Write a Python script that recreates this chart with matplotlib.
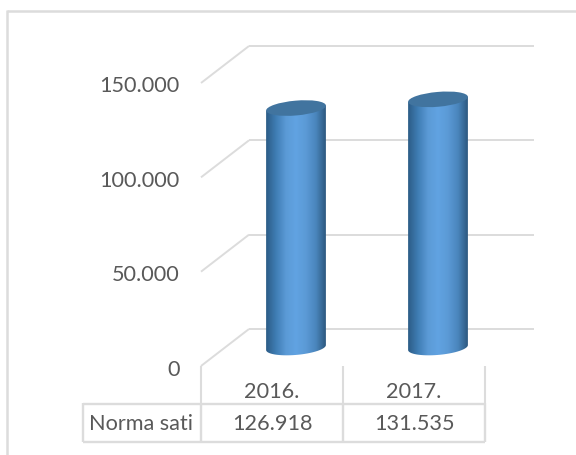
import numpy as np
import matplotlib
matplotlib.use("Agg")
import matplotlib.pyplot as plt
from matplotlib.colors import LinearSegmentedColormap
from matplotlib.patches import Ellipse, PathPatch
from matplotlib.path import Path
from matplotlib.transforms import IdentityTransform

categories = ["2016.", "2017."]
values = [126918, 131535]
y_ticks = [0, 50000, 100000, 150000]
y_labels = ["0", "50.000", "100.000", "150.000"]
row_label = "Norma sati"
value_labels = ["126.918", "131.535"]

W, H = 576, 455
GREY = "#dcdcdc"
TXT = "#595959"
FS = 15.6
plt.rcParams["font.family"] = ["Lato", "DejaVu Sans"]

fig = plt.figure(figsize=(W / 100, H / 100), dpi=100)
ax = fig.add_axes([0, 0, 1, 1])
# pixel geometry of the front plane
X0, DX = 272.0, 142.0
Y0, SY = 366.0, 283.0 / 150000
ax.set_xlim((0 - X0) / DX, (W - X0) / DX)
ax.set_ylim((Y0 - H) / SY, Y0 / SY)
ax.axis("off")

def dx(p):  # pixel x -> data x
    return (p - X0) / DX
def dy(p):  # pixel y from top -> data y
    return (Y0 - p) / SY
def line(x1, y1, x2, y2, lw=1.4, z=1):
    ax.plot([dx(x1), dx(x2)], [dy(y1), dy(y2)], color=GREY, lw=lw, zorder=z,
            solid_capstyle="butt", clip_on=False)

# outer frame
line(7, 10.5, 576, 10.5, lw=1.8)
line(7, 10, 7, 455, lw=1.8)

DEPTH_X, DEPTH_Y = 48.0, 37.0
# gridlines on side wall and back wall
for t in y_ticks:
    yf = Y0 - t * SY
    line(201, yf, 201 + DEPTH_X, yf - DEPTH_Y)
    line(201 + DEPTH_X, yf - DEPTH_Y, 534, yf - DEPTH_Y)
for t, lab in zip(y_ticks, y_labels):
    ax.text(dx(179.5), t - 1.5 / SY, lab, ha="right", va="center_baseline", fontsize=FS, color=TXT)

# cylinders
cmap = LinearSegmentedColormap.from_list(
    "cyl", ["#2c5c86", "#3f7db4", "#5b9ad6", "#61a3e2", "#5b9ad6", "#4a86bd", "#2c587f"])
grad = np.linspace(0, 1, 256).reshape(1, -1)
RX, RY, TILT = 30.0, 7.4, 5.0
th = np.radians(TILT)
ex, ey = RX * np.cos(th), RX * np.sin(th)
for i, v in enumerate(values):
    base_p = Y0 - DEPTH_Y / 2
    top_p = base_p - v * SY
    cpx = X0 + i * DX + DEPTH_X / 2
    a = np.linspace(0, np.pi, 40)
    arcx = cpx + RX * np.cos(a) * np.cos(th) + RY * np.sin(a) * np.sin(th)
    arcy = base_p - RX * np.cos(a) * np.sin(th) + RY * np.sin(a) * np.cos(th)
    px = np.r_[cpx - ex, cpx + ex, arcx, cpx - ex]
    py = np.r_[top_p + ey, top_p - ey, arcy, top_p + ey]
    clip = PathPatch(Path(np.c_[dx(px), dy(py)]), transform=ax.transData, fc="none", ec="none")
    ax.add_patch(clip)
    im = ax.imshow(grad, cmap=cmap, aspect="auto", zorder=3,
                   extent=[dx(cpx - RX), dx(cpx + RX), dy(base_p + 12), dy(top_p - 8)])
    im.set_clip_path(clip)
    ax.add_patch(Ellipse((cpx, H - top_p), 2 * RX, 2 * RY, angle=TILT, fc="#41749f", ec="none",
                         transform=IdentityTransform(), zorder=4))
ax.set_xlim((0 - X0) / DX, (W - X0) / DX)
ax.set_ylim((Y0 - H) / SY, Y0 / SY)

# data table
colx = [83, 201, 343, 485]
for x in colx[1:]:
    line(x, 366, x, 403, lw=1.5)
line(83, 403.5, 485, 403.5, lw=1.7)
line(83, 441.5, 485, 441.5, lw=1.7)
for x in colx:
    line(x, 403, x, 442, lw=1.7)
ax.text(dx(141), dy(422.5), row_label, ha="center", va="center_baseline", fontsize=FS, color=TXT)
for i, (c, s) in enumerate(zip(categories, value_labels)):
    ax.text(i, dy(390), c, ha="center", va="center_baseline", fontsize=FS, color=TXT)
    ax.text(i, dy(422.5), s, ha="center", va="center_baseline", fontsize=FS, color=TXT)

fig.savefig("out.png", dpi=100, facecolor="white")
